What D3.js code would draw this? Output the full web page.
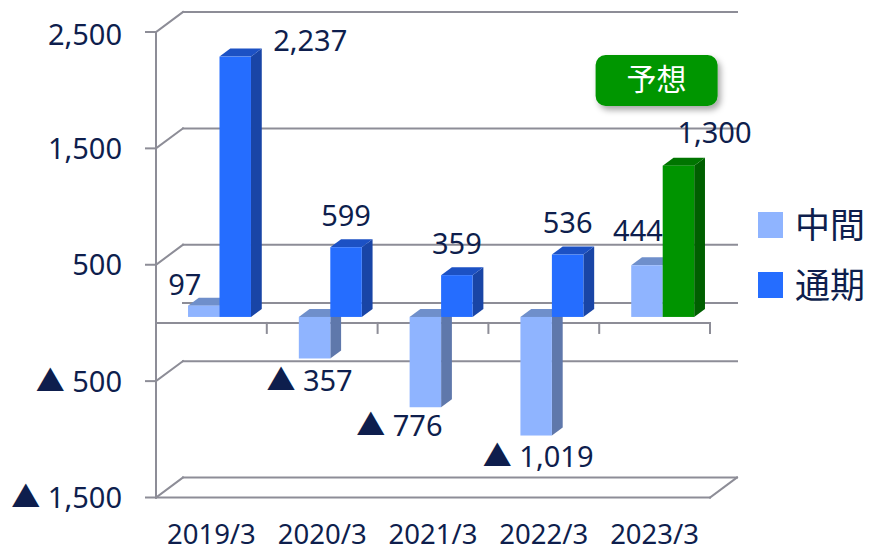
<!DOCTYPE html>
<html><head><meta charset="utf-8">
<script src="https://cdn.jsdelivr.net/npm/d3@7"></script>
<style>
html,body{margin:0;padding:0;background:#fff;overflow:hidden}
text{font-family:"Noto Sans","Noto Sans CJK JP",sans-serif}
</style></head>
<body><svg id="c" width="871" height="553"></svg>
<script>
// ---- data ----
const categories = ["2019/3","2020/3","2021/3","2022/3","2023/3"];
const seriesNames = ["中間","通期"];
const interimValues = [97, -357, -776, -1019, 444];
const fullYearValues = [2237, 599, 359, 536, 1300];
const tickValues = [2500, 1500, 500, -500, -1500];
const forecastCategory = "2023/3";
const forecastLabel = "予想";

// ---- layout ----
const W = 871, H = 553;
const plotL = 156, plotR = 710;
const DX = 27, DY = -20;          // depth of the 3D box
const z0 = 0.3, z1 = 0.7;         // bar depth span
const textColor = "#0e1e4d";
const gridColor = "#8d8d97";
const colors = {
  "中間": {front:"#8fb4ff", top:"#6f8fcb", side:"#5f78ab"},
  "通期": {front:"#256dff", top:"#1c51c4", side:"#1945a6"},
  forecast: {front:"#009400", top:"#007500", side:"#005f00"}
};
// label nudges (pixels) keyed by series|category
const labelNudge = {
  "通期|2019/3":[75,16], "通期|2023/3":[36,-1], "中間|2023/3":[-9,-3],
  "中間|2019/3":[-19,11], "中間|2020/3":[-5,1], "中間|2021/3":[-26,-3], "中間|2022/3":[2,0]
};

const svg = d3.select("#c");
const y = d3.scaleLinear().domain([-1500, 2500]).range([497.5, 32]);
const x = d3.scaleBand().domain(categories).range([plotL, plotR]);
const xs = d3.scaleBand().domain(seriesNames).range([0, x.bandwidth()]).paddingInner(0).paddingOuter(0.76);

const P = (px, py, z) => [px + z*DX, py + z*DY];
const fmt = v => (v < 0 ? "▲ " : "") + d3.format(",")(Math.abs(v));

const g = svg.append("g");
const line = (a, b) => g.append("line").attr("x1",a[0]).attr("y1",a[1]).attr("x2",b[0]).attr("y2",b[1])
  .attr("stroke",gridColor).attr("stroke-width",2).attr("stroke-linecap","square");

// walls / gridlines
tickValues.forEach(t => {
  const yy = y(t);
  line([plotL-10, yy], [plotL, yy]);
  line([plotL, yy], P(plotL, yy, 1));
  line(P(plotL, yy, 1), P(plotR, yy, 1));
});
// floor at minimum
const yMin = y(-1500);
line([plotL, yMin], [plotR, yMin]);
line([plotR, yMin], P(plotR, yMin, 1));
// back zero line
const y0 = y(0);
line(P(plotL, y0, 1), P(plotR, y0, 1));
// vertical axis
line([plotL, y(2500)], [plotL, yMin]);

// axis labels
svg.append("g").selectAll("text").data(tickValues).join("text")
  .attr("x", 122).attr("y", d => y(d) + (d === 2500 ? 3 : 0)).attr("dy","0.36em")
  .attr("text-anchor","end").attr("font-size",29).attr("fill",textColor)
  .text(fmt);

// bars
const bars = [];
categories.forEach((c, i) => {
  [["中間", interimValues[i]], ["通期", fullYearValues[i]]].forEach(([s, v]) => bars.push({c, s, v}));
});
const bg = svg.append("g");
bars.forEach(b => {
  const col = (b.s === "通期" && b.c === forecastCategory) ? colors.forecast : colors[b.s];
  const xa = x(b.c) + xs(b.s), xb = xa + xs.bandwidth();
  const yt = y(Math.max(0, b.v)), yb = y(Math.min(0, b.v));
  const poly = pts => pts.map(p => p.join(",")).join(" ");
  bg.append("polygon").attr("points", poly([P(xb,yt,z0),P(xb,yb,z0),P(xb,yb,z1),P(xb,yt,z1)])).attr("fill", col.side);
  bg.append("polygon").attr("points", poly([P(xa,yt,z0),P(xb,yt,z0),P(xb,yt,z1),P(xa,yt,z1)])).attr("fill", col.top);
  const f0 = P(xa, yt, z0), f1 = P(xb, yb, z0);
  bg.append("rect").attr("x", f0[0]).attr("y", f0[1]).attr("width", f1[0]-f0[0]).attr("height", f1[1]-f0[1]).attr("fill", col.front);
  b.cx = (f0[0]+f1[0])/2; b.top = f0[1]; b.bot = f1[1];
});

// front zero floor line with ticks
line([plotL, y0], [plotR, y0]);
categories.forEach(c => line([x(c), y0], [x(c), y0+10]));
line([plotR, y0], [plotR, y0+10]);

// value labels
svg.append("g").selectAll("text").data(bars).join("text")
  .attr("x", d => d.cx + (labelNudge[d.s+"|"+d.c]||[0,0])[0])
  .attr("y", d => (d.v >= 0 ? d.top - 32 : d.bot + 21) + (labelNudge[d.s+"|"+d.c]||[0,0])[1])
  .attr("dy","0.36em").attr("text-anchor","middle").attr("font-size",29).attr("fill",textColor)
  .text(d => fmt(d.v));

// category labels
svg.append("g").selectAll("text").data(categories).join("text")
  .attr("x", d => x(d) + x.bandwidth()/2).attr("y", 544)
  .attr("text-anchor","middle").attr("font-size",27.5).attr("fill",textColor).text(d => d);

// legend
const lg = svg.append("g");
seriesNames.forEach((s, i) => {
  const ly = 225 + i*60;
  lg.append("rect").attr("x", 758).attr("y", ly-13).attr("width", 25).attr("height", 26).attr("fill", colors[s].front);
  lg.append("text").attr("x", 795).attr("y", ly).attr("dy","0.36em").attr("font-size",35)
    .attr("font-family","Noto Sans CJK JP").attr("fill",textColor).text(s);
});

// forecast badge
const defs = svg.append("defs");
const f = defs.append("filter").attr("id","sh").attr("x","-20%").attr("y","-20%").attr("width","150%").attr("height","160%");
f.append("feDropShadow").attr("dx",3).attr("dy",4).attr("stdDeviation",3).attr("flood-color","#000").attr("flood-opacity",0.35);
const fx = x(forecastCategory) + x.bandwidth()/2 + 2;
svg.append("rect").attr("x", fx-61).attr("y", 55).attr("width", 122).attr("height", 51).attr("rx", 10)
  .attr("fill","#009600").attr("filter","url(#sh)");
svg.append("text").attr("x", fx).attr("y", 79).attr("dy","0.36em").attr("text-anchor","middle")
  .attr("font-size",30).attr("font-family","Noto Sans CJK JP").attr("fill","#fff").text(forecastLabel);
</script></body></html>
